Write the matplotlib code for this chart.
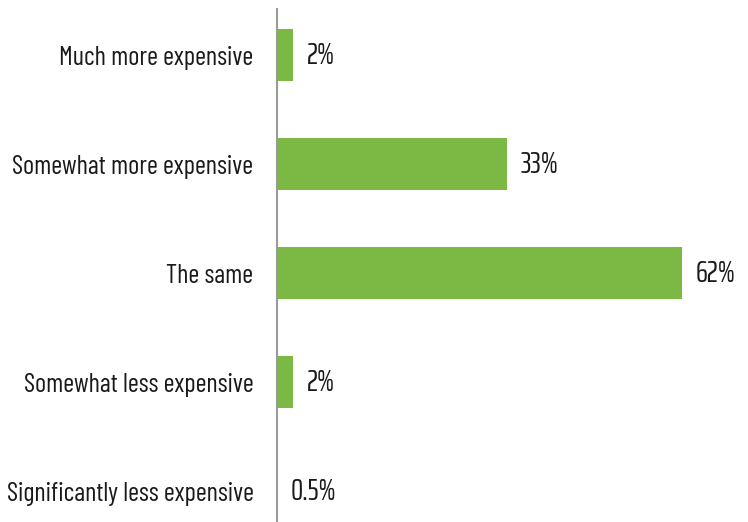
import matplotlib
matplotlib.use("Agg")
import matplotlib.pyplot as plt

categories = ["Much more expensive", "Somewhat more expensive", "The same",
              "Somewhat less expensive", "Significantly less expensive"]
bar_values = [2.5, 35.2, 62, 2.5, 0]
value_labels = ["2%", "33%", "62%", "2%", "0.5%"]

label_font = ["Barlow Condensed", "DejaVu Sans"]
num_font = ["Saira ExtraCondensed", "Barlow Condensed", "DejaVu Sans"]

fig = plt.figure(figsize=(7.48, 5.22), dpi=100)
ax = fig.add_axes([277/748, 0, 1 - 277/748, 1 - 9/522])
ypos = list(range(len(categories)))
ax.barh(ypos, bar_values, height=0.48, color="#7cb944")
ax.set_xlim(0, 72.1)
ax.set_ylim(4.284, -0.422)
for s in ["top", "right", "bottom"]:
    ax.spines[s].set_visible(False)
ax.spines["left"].set_color("#9a9a9a")
ax.spines["left"].set_linewidth(1.5)
ax.set_xticks([])
ax.set_yticks(ypos)
ax.set_yticklabels(categories, family=label_font, fontsize=19, color="#1a1a1a")
ax.tick_params(axis="y", length=0, pad=17)
for y, v, lab in zip(ypos, bar_values, value_labels):
    ax.annotate(lab, (v, y), xytext=(10, 0), textcoords="offset points",
                va="center", ha="left", fontsize=22, color="#1a1a1a",
                family=num_font, weight=400)
fig.savefig("out.png", dpi=100)
